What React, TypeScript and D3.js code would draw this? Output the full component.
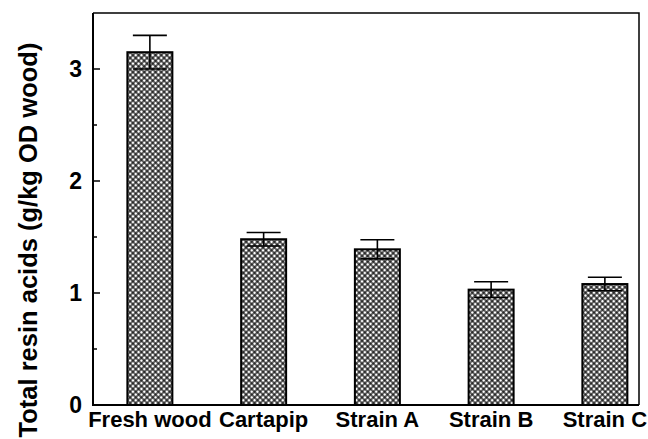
import * as d3 from "d3";
import { useEffect, useRef } from "react";

const categories = ["Fresh wood", "Cartapip", "Strain A", "Strain B", "Strain C"];
const values = [3.15, 1.48, 1.39, 1.03, 1.08];
const errors = [0.15, 0.06, 0.085, 0.07, 0.06];
const majorTicks = [0, 1, 2, 3];
const minorTicks = [0.5, 1.5, 2.5];

export default function App() {
  const svgRef = useRef<SVGSVGElement>(null);

  useEffect(() => {
    if (!svgRef.current) return;
    const svg = d3.select(svgRef.current);
    svg.selectAll("*").remove();

    const left = 93;
    const right = 639;
    const top = 13;
    const bottom = 405;
    const font = "'Liberation Sans', Arial, Helvetica, sans-serif";

    const x = d3.scaleLinear().domain([-0.5, 4.3]).range([left, right]);
    const y = d3.scaleLinear().domain([0, 3.5]).range([bottom, top]);
    const barWidth = 45;
    const capHalf = 17;

    // crosshatch fill
    const defs = svg.append("defs");
    const pat = defs
      .append("pattern")
      .attr("id", "hatch")
      .attr("patternUnits", "userSpaceOnUse")
      .attr("width", 4)
      .attr("height", 4)
      .attr("patternTransform", "rotate(45)");
    pat.append("rect").attr("width", 4).attr("height", 4).attr("fill", "#fff");
    pat.append("line").attr("x1", 0).attr("y1", 1).attr("x2", 4).attr("y2", 1)
      .attr("stroke", "#000").attr("stroke-width", 1.2);
    pat.append("line").attr("x1", 1).attr("y1", 0).attr("x2", 1).attr("y2", 4)
      .attr("stroke", "#000").attr("stroke-width", 1.2);

    const g = svg.append("g");

    // bars
    g.selectAll("rect.bar")
      .data(values)
      .enter()
      .append("rect")
      .attr("class", "bar")
      .attr("x", (_, i) => x(i) - barWidth / 2)
      .attr("y", (d) => y(d))
      .attr("width", barWidth)
      .attr("height", (d) => bottom - y(d))
      .attr("fill", "url(#hatch)")
      .attr("stroke", "#000")
      .attr("stroke-width", 2);

    // error bars
    values.forEach((v, i) => {
      const cx = x(i);
      const lo = y(v - errors[i]);
      const hi = y(v + errors[i]);
      g.append("line").attr("x1", cx).attr("x2", cx).attr("y1", lo).attr("y2", hi)
        .attr("stroke", "#000").attr("stroke-width", 1.6);
      [lo, hi].forEach((yy) => {
        g.append("line").attr("x1", cx - capHalf).attr("x2", cx + capHalf)
          .attr("y1", yy).attr("y2", yy)
          .attr("stroke", "#000").attr("stroke-width", 1.6);
      });
    });

    // frame
    g.append("path")
      .attr("d", `M${left},${top}H${right}V${bottom}`)
      .attr("fill", "none")
      .attr("stroke", "#000")
      .attr("stroke-width", 1.5);
    g.append("path")
      .attr("d", `M${left},${top}V${bottom}H${right}`)
      .attr("fill", "none")
      .attr("stroke", "#000")
      .attr("stroke-width", 2);

    // y ticks (inward)
    g.selectAll("line.major")
      .data(majorTicks.filter((t) => t > 0))
      .enter()
      .append("line")
      .attr("x1", left)
      .attr("x2", left + 7)
      .attr("y1", (d) => y(d))
      .attr("y2", (d) => y(d))
      .attr("stroke", "#000")
      .attr("stroke-width", 1.5);
    g.selectAll("line.minor")
      .data(minorTicks)
      .enter()
      .append("line")
      .attr("x1", left)
      .attr("x2", left + 4)
      .attr("y1", (d) => y(d))
      .attr("y2", (d) => y(d))
      .attr("stroke", "#000")
      .attr("stroke-width", 1.5);

    g.selectAll("text.ytick")
      .data(majorTicks)
      .enter()
      .append("text")
      .attr("x", 82)
      .attr("y", (d) => y(d) + 8)
      .attr("text-anchor", "end")
      .attr("font-family", font)
      .attr("font-weight", "bold")
      .attr("font-size", 23)
      .text((d) => d);

    g.selectAll("text.xtick")
      .data(categories)
      .enter()
      .append("text")
      .attr("x", (_, i) => x(i))
      .attr("y", 427)
      .attr("text-anchor", "middle")
      .attr("font-family", font)
      .attr("font-weight", "bold")
      .attr("font-size", 22)
      .text((d) => d);

    g.append("text")
      .attr("transform", `translate(37,240) rotate(-90)`)
      .attr("text-anchor", "middle")
      .attr("font-family", font)
      .attr("font-weight", "bold")
      .attr("font-size", 25.5)
      .text("Total resin acids (g/kg OD wood)");
  }, []);

  return (
    <svg
      ref={svgRef}
      width={648}
      height={439}
      style={{ position: "absolute", left: 0, top: 0, background: "#fff" }}
    />
  );
}
